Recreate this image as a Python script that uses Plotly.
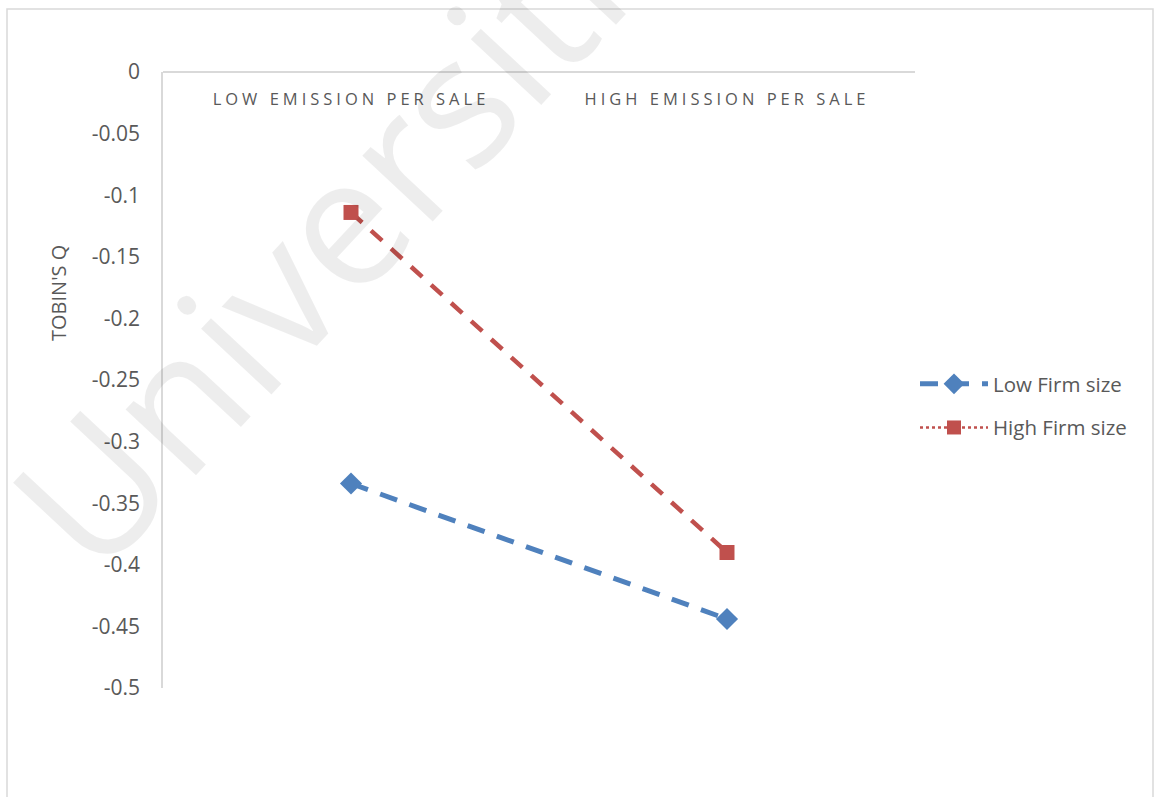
import plotly.graph_objects as go

# Interaction plot data: Tobin's Q by emission intensity and firm size
categories = ["LOW EMISSION PER SALE", "HIGH EMISSION PER SALE"]
low_firm_size = [-0.334, -0.444]
high_firm_size = [-0.114, -0.390]

y_ticks = [0, -0.05, -0.1, -0.15, -0.2, -0.25, -0.3, -0.35, -0.4, -0.45, -0.5]
y_tick_text = ["0", "-0.05", "-0.1", "-0.15", "-0.2", "-0.25", "-0.3", "-0.35", "-0.4", "-0.45", "-0.5"]

BLUE = "#4F81BD"
RED = "#C0504D"
TEXT = "#595959"
AXIS = "#D9D9D9"

W, H = 1157, 797
ML, MR, MT, MB = 163, 242, 72, 109
PW, PH = W - ML - MR, H - MT - MB


def px(x):
    return (x - ML) / PW


def py(y):
    return (H - MB - y) / PH


cat_labels = ['<span style="letter-spacing:4px">%s</span>' % c for c in categories]

fig = go.Figure()

fig.add_trace(go.Scatter(
    x=categories, y=low_firm_size, mode="lines+markers", name="Low Firm size",
    line=dict(color=BLUE, width=5, dash="18px,13px"),
    marker=dict(symbol="diamond", size=17, color=BLUE),
    legendgroup="low", showlegend=True,
))
fig.add_trace(go.Scatter(
    x=categories, y=high_firm_size, mode="lines+markers", name="High Firm size",
    line=dict(color=RED, width=4.5, dash="15px,12px"),
    marker=dict(symbol="square", size=15, color=RED),
    legendgroup="high", showlegend=False,
))
# legend entry for the firm-size series uses a dotted sample line
fig.add_trace(go.Scatter(
    x=[None], y=[None], mode="lines+markers", name="High Firm size",
    line=dict(color=RED, width=2.5, dash="dot"),
    marker=dict(symbol="square", size=14, color=RED),
    legendgroup="high", showlegend=True,
))

# faint watermark
fig.add_annotation(
    text="Universiti", x=px(315), y=py(245), xref="paper", yref="paper",
    xanchor="center", yanchor="middle",
    showarrow=False, textangle=-47,
    font=dict(family="Open Sans", size=180, weight=500, color="rgba(0,0,0,0.07)"),
)

# y axis title
fig.add_annotation(
    text="TOBIN'S Q",
    x=px(58), y=py(293), xref="paper", yref="paper",
    xanchor="center", yanchor="middle",
    showarrow=False, textangle=-90,
    font=dict(family="Open Sans", size=20, color=TEXT),
)

# chart area border
fig.add_shape(
    type="rect", xref="paper", yref="paper",
    x0=px(7), x1=px(1153), y0=py(805), y1=py(9),
    line=dict(color=AXIS, width=1.5), fillcolor="rgba(0,0,0,0)", layer="below",
)

fig.update_layout(
    width=W, height=H,
    margin=dict(l=ML, r=MR, t=MT, b=MB),
    paper_bgcolor="white", plot_bgcolor="white",
    font=dict(family="Open Sans", color=TEXT),
    xaxis=dict(
        type="category", range=[-0.5, 1.5],
        anchor="free", position=1, side="bottom",
        ticklabelstandoff=12,
        tickvals=categories, ticktext=cat_labels,
        showline=True, linecolor=AXIS, linewidth=1.5,
        showgrid=False, zeroline=False, ticks="",
        tickfont=dict(size=16.5, color=TEXT),
    ),
    yaxis=dict(
        range=[-0.5, 0], tickvals=y_ticks, ticktext=y_tick_text,
        showline=True, linecolor=AXIS, linewidth=1.5,
        showgrid=False, zeroline=False, ticks="",
        ticklabelstandoff=17,
        tickfont=dict(size=21, color=TEXT),
    ),
    legend=dict(
        x=1.0, xanchor="left", y=py(406), yanchor="middle",
        font=dict(size=20.5, color=TEXT), traceorder="grouped",
        tracegroupgap=14, bgcolor="rgba(0,0,0,0)", itemwidth=68,
    ),
)

fig.write_html("out.html")
